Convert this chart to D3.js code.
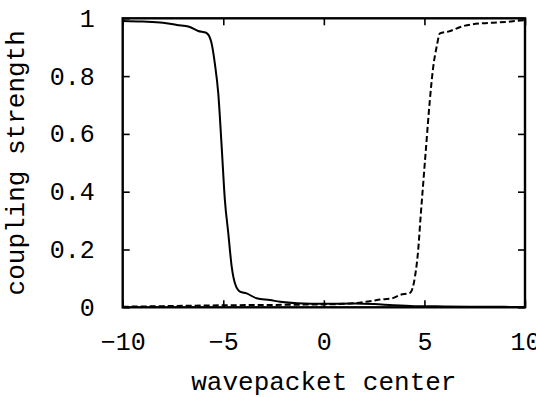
<!DOCTYPE html>
<html>
<head>
<meta charset="utf-8">
<script src="https://cdn.jsdelivr.net/npm/d3@7/dist/d3.min.js"></script>
<style>
  html, body { margin: 0; padding: 0; background: #fff; }
  svg { display: block; }
  text { font-family: "Liberation Mono", "DejaVu Sans Mono", monospace; fill: #000; }
</style>
</head>
<body>
<svg id="chart" width="536" height="397"></svg>
<script>
// ---- data ----
const solidX = [-10, -9, -8, -7.3, -6.7, -6.25, -5.85, -5.6, -5.42, -5.25, -5.08, -4.92, -4.75, -4.58, -4.42, -4.17, -3.84, -3.34, -2.68, -2.17, -1.32, 0, 1.5, 2.5, 3.45, 4.5, 6, 8, 10];
const solidY = [0.991, 0.989, 0.985, 0.977, 0.971, 0.956, 0.950, 0.919, 0.844, 0.741, 0.556, 0.371, 0.256, 0.140, 0.083, 0.054, 0.048, 0.031, 0.025, 0.019, 0.014, 0.012, 0.013, 0.011, 0.007, 0.004, 0.003, 0.002, 0.001];
const dashX = [-10, -8, -6, -5, -3, -1.5, 0, 1.45, 2.2, 2.95, 3.4, 3.8, 4.28, 4.53, 4.69, 4.81, 4.94, 5.07, 5.27, 5.44, 5.61, 5.77, 6.18, 6.93, 7.92, 8.75, 10];
const dashY = [0.002, 0.004, 0.006, 0.007, 0.008, 0.009, 0.010, 0.014, 0.020, 0.028, 0.031, 0.043, 0.050, 0.106, 0.198, 0.313, 0.429, 0.544, 0.717, 0.833, 0.902, 0.948, 0.954, 0.973, 0.983, 0.986, 0.994];
const xTicks = [-10, -5, 0, 5, 10];
const yTicks = [0, 0.2, 0.4, 0.6, 0.8, 1];
const xLabel = "wavepacket center";
const yLabel = "coupling strength";

// ---- layout ----
const pL = 122.7, pR = 525, pT = 18.3, pB = 307.3;
const svg = d3.select("#chart");
const x = d3.scaleLinear().domain([-10, 10]).range([pL, pR]);
const y = d3.scaleLinear().domain([0, 1]).range([pB, pT]);

const fmtY = d => (d === 0 ? "0" : d === 1 ? "1" : d3.format(".1f")(d));

// bottom axis
const gB = svg.append("g").attr("transform", `translate(0,${pB})`)
  .call(d3.axisBottom(x).tickValues(xTicks).tickSizeInner(-7).tickSizeOuter(0).tickPadding(38).tickFormat(d3.format("d")));
// top axis mirror
const gT = svg.append("g").attr("transform", `translate(0,${pT})`)
  .call(d3.axisTop(x).tickValues(xTicks).tickSizeInner(-7).tickSizeOuter(0).tickFormat(""));
// left axis
const gL = svg.append("g").attr("transform", `translate(${pL},0)`)
  .call(d3.axisLeft(y).tickValues(yTicks).tickSizeInner(-7).tickSizeOuter(0).tickPadding(28).tickFormat(fmtY));
// right axis mirror
const gR = svg.append("g").attr("transform", `translate(${pR},0)`)
  .call(d3.axisRight(y).tickValues(yTicks).tickSizeInner(-7).tickSizeOuter(0).tickFormat(""));

[gB, gT, gL, gR].forEach(g => {
  g.select(".domain").remove();
  g.selectAll(".tick line").attr("stroke", "#000").attr("stroke-width", 1.6);
  g.selectAll(".tick text").style("font-size", "25px").style("font-family", "'Liberation Mono', monospace").attr("fill", "#000");
});
gB.selectAll(".tick text").attr("dy", "0.2em");

// frame
svg.append("rect").attr("x", pL).attr("y", pT).attr("width", pR - pL).attr("height", pB - pT)
  .attr("fill", "none").attr("stroke", "#000").attr("stroke-width", 2.4);

// lines
const line = d3.line().x(d => x(d[0])).y(d => y(d[1])).curve(d3.curveMonotoneX);
const solid = solidX.map((v, i) => [v, solidY[i]]);
const dashed = dashX.map((v, i) => [v, dashY[i]]);

svg.append("path").datum(solid).attr("d", line)
  .attr("fill", "none").attr("stroke", "#000").attr("stroke-width", 2);
svg.append("path").datum(dashed).attr("d", line)
  .attr("fill", "none").attr("stroke", "#000").attr("stroke-width", 2).attr("stroke-dasharray", "6,3");

// axis labels
svg.append("text").attr("x", (pL + pR) / 2).attr("y", 390).attr("text-anchor", "middle")
  .style("font-size", "26px").text(xLabel);
svg.append("text").attr("transform", `translate(24,${(pT + pB) / 2}) rotate(-90)`)
  .attr("text-anchor", "middle").style("font-size", "26px").text(yLabel);
</script>
</body>
</html>
